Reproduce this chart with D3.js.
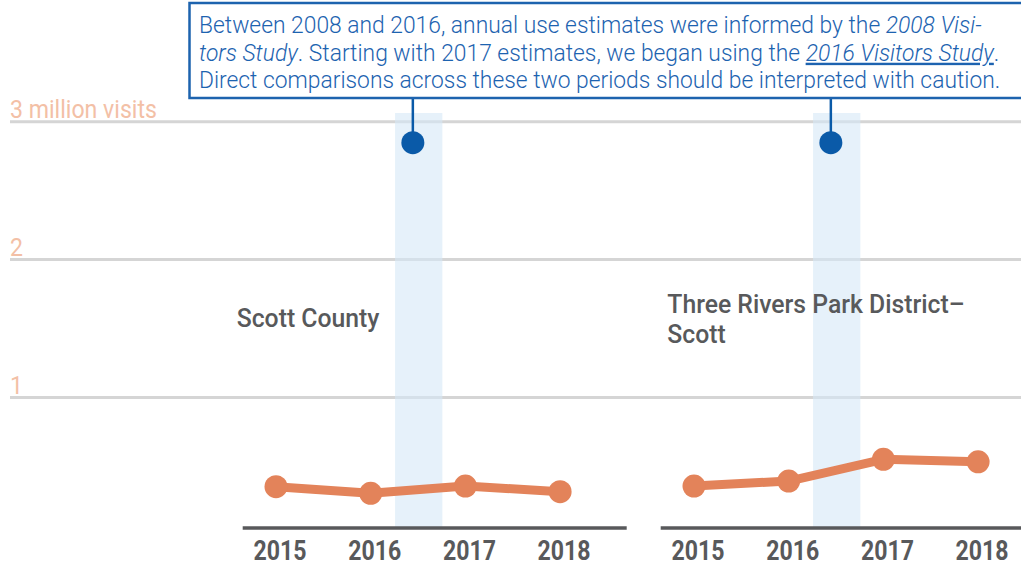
<!DOCTYPE html>
<html>
<head>
<meta charset="utf-8">
<script src="https://cdn.jsdelivr.net/npm/d3@7"></script>
<style>
  html, body { margin: 0; padding: 0; background: #fff; }
  svg { display: block; }
  text { font-family: Roboto, "Noto Sans", sans-serif; }
</style>
</head>
<body>
<svg id="chart" width="1021" height="567"></svg>
<script>
// ---- data ----
const years = [2015, 2016, 2017, 2018];
const scottCounty = [0.353, 0.305, 0.358, 0.317];
const threeRivers = [0.358, 0.394, 0.552, 0.534];
const panelTitles = [["Scott County"], ["Three Rivers Park District–", "Scott"]];
const yTicks = [1, 2, 3];
const yTickLabels = ["1", "2", "3 million visits"];
const noteLines = [
  [{t: "Between 2008 and 2016, annual use estimates were informed by the "}, {t: "2008 Visi-", i: true}],
  [{t: "tors Study", i: true}, {t: ". Starting with 2017 estimates, we began using the "}, {t: "2016 Visitors Study", i: true, u: true}, {t: "."}],
  [{t: "Direct comparisons across these two periods should be interpreted with caution."}]
];

// ---- layout ----
const W = 1021, H = 567;
const svg = d3.select("#chart");
const orange = "#e3835a", blue = "#0a5aa8", grid = "#d5d5d5", dark = "#58595b";
const y = d3.scaleLinear().domain([0, 3]).range([535.4, 121.7]);
const axisY = 528;

function condense(sel, target, ax) {
  const w = sel.node().getBBox().width;
  const s = target / w;
  sel.attr("transform", `translate(${ax},0) scale(${s},1) translate(${-ax},0)`);
  return s;
}
function condenseBy(sel, s, ax) {
  sel.attr("transform", `translate(${ax},0) scale(${s},1) translate(${-ax},0)`);
}

// gridlines
const gridG = svg.append("g");
gridG.selectAll("line").data(yTicks).join("line")
  .attr("x1", 10).attr("x2", W)
  .attr("y1", d => y(d)).attr("y2", d => y(d))
  .attr("stroke", grid).attr("stroke-width", 3);

// y labels
let yScaleF = null;
yTicks.slice().reverse().forEach((d) => {
  const lab = yTickLabels[yTicks.indexOf(d)];
  const t = svg.append("text").attr("x", 10).attr("y", y(d) - 3.5)
    .attr("fill", "#f3c0a6").attr("font-size", 25.5).attr("font-weight", 400).text(lab);
  if (yScaleF === null) yScaleF = condense(t, 147, 10);
  else condenseBy(t, yScaleF, 10);
});

// panels
const panels = [
  {x0: 242.7, values: scottCounty, title: panelTitles[0]},
  {x0: 660.7, values: threeRivers, title: panelTitles[1]}
];
let yearScale = null, titleScale = null;
const bandsG = svg.append("g");
const annoG = svg.append("g");
panels.forEach((p, pi) => {
  const x = d3.scalePoint().domain(years).range([p.x0 + 33.3, p.x0 + 33.3 + 94.7 * 3]);
  const step = x.step();
  const bx = x(2016);
  // band
  bandsG.append("rect")
    .attr("x", bx + step * 0.257).attr("width", step * 0.5)
    .attr("y", 113).attr("height", axisY - 113)
    .attr("fill", "#d6e7f7").attr("fill-opacity", 0.6);
  const g = svg.append("g");
  // axis line
  g.append("line").attr("x1", p.x0).attr("x2", p.x0 + 384)
    .attr("y1", axisY).attr("y2", axisY)
    .attr("stroke", dark).attr("stroke-width", 3.5);
  // year labels
  years.forEach((yr) => {
    const cx = x(yr) + 4;
    const t = g.append("text").attr("x", cx).attr("y", 560)
      .attr("text-anchor", "middle").attr("fill", dark)
      .attr("font-size", 28.5).attr("font-weight", 700).text(yr);
    if (yearScale === null) yearScale = condense(t, 53, cx);
    else condenseBy(t, yearScale, cx);
  });
  // title
  const titleX = pi === 0 ? 236.7 : 667.3;
  const titleY = pi === 0 ? 326.7 : 313.3;
  p.title.forEach((line, li) => {
    const t = g.append("text").attr("x", titleX).attr("y", titleY + li * 30)
      .attr("fill", dark).attr("font-size", 25).attr("font-weight", 500).text(line);
    if (titleScale === null) titleScale = condense(t, 143.5, titleX);
    else condenseBy(t, titleScale, titleX);
  });
  // line + dots
  const pts = years.map((yr, i) => [x(yr), y(p.values[i])]);
  g.append("path").attr("d", d3.line()(pts))
    .attr("fill", "none").attr("stroke", orange).attr("stroke-width", 9)
    .attr("stroke-linejoin", "round");
  g.selectAll("circle").data(pts).join("circle")
    .attr("cx", d => d[0]).attr("cy", d => d[1]).attr("r", 11.5)
    .attr("fill", orange);
  // annotation marker
  const mx = bx + step * 0.445;
  annoG.append("line").attr("x1", mx).attr("x2", mx).attr("y1", 98).attr("y2", 143)
    .attr("stroke", blue).attr("stroke-width", 2.5);
  annoG.append("circle").attr("cx", mx).attr("cy", 142.7).attr("r", 11.5).attr("fill", blue);
});

// note box
const box = svg.append("g");
box.append("rect").attr("x", 189.5).attr("y", 3).attr("width", 850).attr("height", 95)
  .attr("fill", "#fff").attr("stroke", "#1d63ae").attr("stroke-width", 2.5);
const noteTexts = noteLines.map((segs, li) => {
  const t = box.append("text").attr("x", 199).attr("y", 33.3 + li * 27.4)
    .attr("fill", "#1d63b0").attr("font-size", 24).attr("font-weight", 300);
  segs.forEach(s => {
    t.append("tspan").text(s.t)
      .attr("font-style", s.i ? "italic" : null)
      .attr("text-decoration", s.u ? "underline" : null);
  });
  return t;
});
const noteScale = condense(noteTexts[2], 802, 199);
noteTexts.slice(0, 2).forEach(t => condenseBy(t, noteScale, 199));
</script>
</body>
</html>
